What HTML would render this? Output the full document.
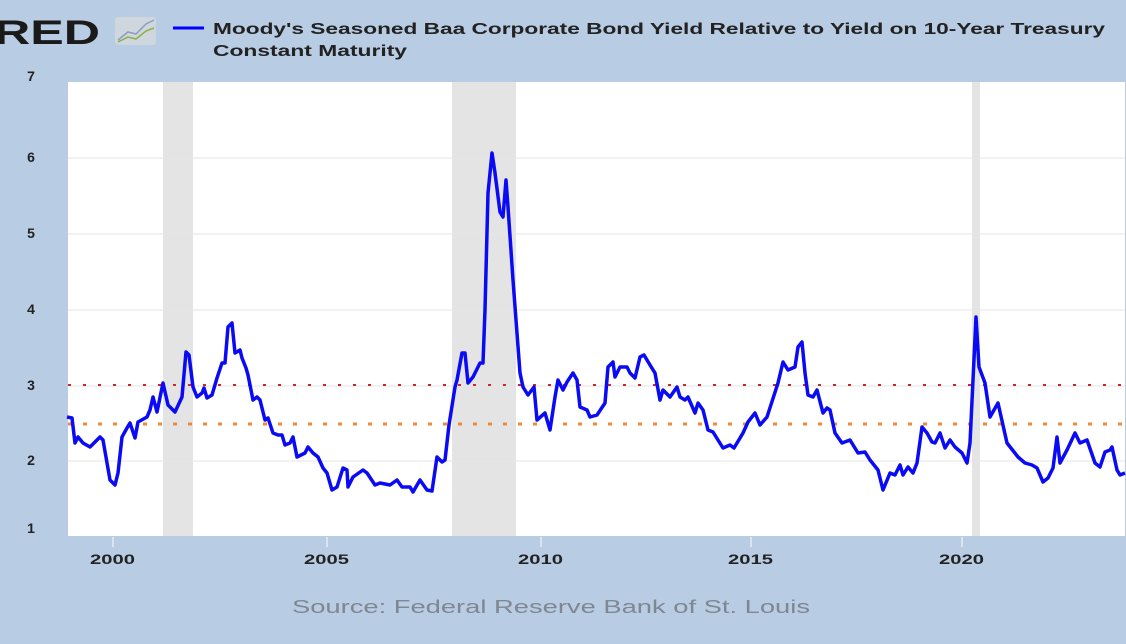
<!DOCTYPE html>
<html><head><style>
body{margin:0;width:1126px;height:644px;background:#b8cce4;overflow:hidden;font-family:"Liberation Sans",sans-serif;}
</style></head><body>
<svg width="1126" height="644" xmlns="http://www.w3.org/2000/svg" style="position:absolute;left:0;top:0">
<rect width="1126" height="644" fill="#b8cce4"/>
<text x="-6" y="44" font-size="34" font-weight="bold" fill="#1a1a1a" font-family="Liberation Sans" textLength="106" lengthAdjust="spacingAndGlyphs">RED</text>
<rect x="115" y="17" width="41" height="28" rx="3" fill="#cfd6de"/>
<polyline points="118,40 128,32 136,34 146,24 154,20" fill="none" stroke="#8aa0c0" stroke-width="1.5"/>
<polyline points="118,42 128,37 136,39 146,31 154,28" fill="none" stroke="#8cb04a" stroke-width="1.5"/>
<line x1="173" y1="28" x2="204" y2="28" stroke="#0000ff" stroke-width="3"/>
<text x="213" y="34" font-size="16" font-weight="bold" fill="#222" textLength="892" lengthAdjust="spacingAndGlyphs">Moody's Seasoned Baa Corporate Bond Yield Relative to Yield on 10-Year Treasury</text>
<text x="213" y="56" font-size="16" font-weight="bold" fill="#222" textLength="194" lengthAdjust="spacingAndGlyphs">Constant Maturity</text>
<rect x="68" y="82" width="1057" height="454" fill="#fff"/>
<rect x="163" y="82" width="30" height="454" fill="#e4e4e4"/>
<rect x="452" y="82" width="64" height="454" fill="#e4e4e4"/>
<rect x="972" y="82" width="8" height="454" fill="#e4e4e4"/>
<g stroke="#e6e6e6" stroke-width="1">
<line x1="68" y1="158" x2="1125" y2="158"/><line x1="68" y1="234" x2="1125" y2="234"/>
<line x1="68" y1="310" x2="1125" y2="310"/><line x1="68" y1="386" x2="1125" y2="386"/>
<line x1="68" y1="461" x2="1125" y2="461"/>
</g>
<line x1="68" y1="385" x2="1125" y2="385" stroke="#cc2a2a" stroke-width="2" stroke-dasharray="3,12"/>
<line x1="68" y1="424" x2="1125" y2="424" stroke="#f08a3a" stroke-width="3" stroke-dasharray="4,11"/>
<g font-size="14" font-weight="bold" fill="#222" text-anchor="middle">
<text x="31" y="81">7</text><text x="31" y="162">6</text><text x="31" y="238">5</text>
<text x="31" y="314">4</text><text x="31" y="390">3</text><text x="31" y="465">2</text><text x="31" y="533">1</text>
</g>
<g font-size="14" font-weight="bold" fill="#222">
<text x="90" y="564" textLength="45" lengthAdjust="spacingAndGlyphs">2000</text>
<text x="304" y="564" textLength="45" lengthAdjust="spacingAndGlyphs">2005</text>
<text x="518" y="564" textLength="45" lengthAdjust="spacingAndGlyphs">2010</text>
<text x="728" y="564" textLength="45" lengthAdjust="spacingAndGlyphs">2015</text>
<text x="939" y="564" textLength="45" lengthAdjust="spacingAndGlyphs">2020</text>
</g>
<g stroke="#dde4ee" stroke-width="2"><line x1="113" y1="537" x2="113" y2="547"/><line x1="327" y1="537" x2="327" y2="547"/><line x1="541" y1="537" x2="541" y2="547"/><line x1="751" y1="537" x2="751" y2="547"/><line x1="962" y1="537" x2="962" y2="547"/></g>
<polyline fill="none" stroke="#0a0af5" stroke-width="3.5" stroke-linejoin="round" points="67,417 72,418 75,443 78,437 83,443 90,447 100,437 103,440 110,480 115,485 118,473 122,437 127,428 130,423 135,438 138,422 147,417 150,410 153,397 157,412 163,383 168,405 175,412 182,397 186,352 189,355 193,387 197,397 202,393 204,388 207,398 212,395 217,378 222,363 225,363 228,327 232,323 235,353 240,350 242,358 246,368 248,375 253,400 257,397 260,400 265,420 268,418 273,433 278,435 282,435 285,445 290,443 293,437 297,457 305,453 308,447 313,453 318,457 323,468 327,473 332,490 337,487 343,468 347,470 348,487 353,477 363,470 367,473 375,485 380,483 390,485 397,480 402,487 410,487 413,492 420,480 427,490 432,491 437,457 442,462 445,460 449,425 455,387 457,380 462,353 465,353 468,383 473,377 480,363 483,363 485,310 488,193 492,153 495,173 500,212 503,217 506,180 508,207 513,280 520,373 523,387 528,395 534,387 537,420 545,413 550,430 555,397 558,380 563,390 567,382 573,373 577,380 580,407 587,410 590,417 597,415 605,403 608,367 613,362 615,377 620,367 627,367 630,373 635,378 640,357 644,355 650,365 655,373 660,400 663,390 670,397 677,387 680,397 685,400 688,397 695,413 698,403 703,410 708,430 713,432 723,448 730,445 734,448 743,433 748,422 755,413 760,425 767,417 778,383 783,362 788,370 795,367 798,347 802,342 805,373 808,395 813,397 817,390 823,413 827,408 830,410 835,433 842,443 850,440 858,453 865,452 870,460 878,470 883,490 890,473 895,475 900,465 903,475 908,467 913,473 917,463 922,427 927,433 932,442 935,443 940,433 945,448 950,440 955,447 962,453 967,463 970,443 976,317 979,367 985,383 990,417 998,403 1007,443 1018,457 1025,463 1032,465 1037,468 1043,482 1048,478 1053,468 1057,437 1060,463 1067,450 1075,433 1080,443 1087,440 1095,463 1100,467 1105,452 1110,450 1112,447 1117,470 1120,475 1125,473"/>
<text x="292" y="613" font-size="18" fill="#7f8790" textLength="518" lengthAdjust="spacingAndGlyphs">Source: Federal Reserve Bank of St. Louis</text>
</svg>
</body></html>
